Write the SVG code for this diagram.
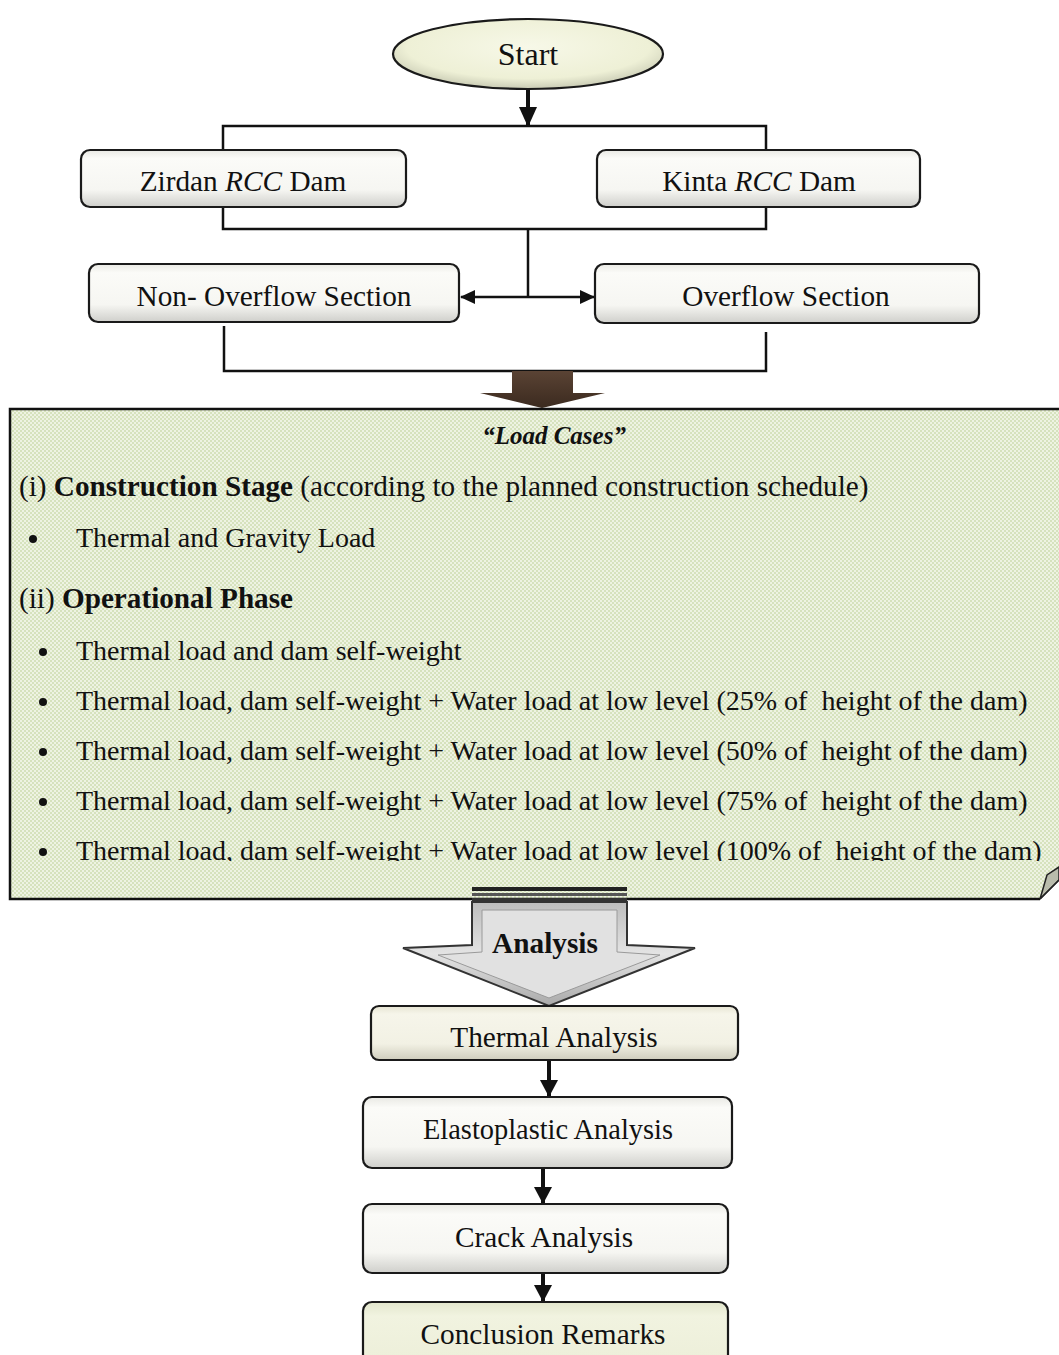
<svg xmlns="http://www.w3.org/2000/svg" width="1059" height="1355" viewBox="0 0 1059 1355">
  <defs>
    <style>
      .t { font-family: "Liberation Serif", "Times New Roman", serif; fill: #111; }
      .c { text-anchor: middle; }
      .lbl { font-size: 29.3px; }
      .box { stroke: #1a1a1a; stroke-width: 2.2; }
      .line { fill: none; stroke: #111; stroke-width: 2.5; }
      .shaft { fill: none; stroke: #111; stroke-width: 4; }
    </style>
    <linearGradient id="boxFill" x1="0" y1="0" x2="0" y2="1">
      <stop offset="0" stop-color="#e9e9e4"/>
      <stop offset="0.15" stop-color="#fbfbf8"/>
      <stop offset="0.7" stop-color="#f6f6f2"/>
      <stop offset="1" stop-color="#cfcfcb"/>
    </linearGradient>
    <linearGradient id="beigeFill" x1="0" y1="0" x2="0" y2="1">
      <stop offset="0" stop-color="#e6e4d2"/>
      <stop offset="0.15" stop-color="#f6f5ea"/>
      <stop offset="0.7" stop-color="#f2f1e4"/>
      <stop offset="1" stop-color="#cfcdbd"/>
    </linearGradient>
    <linearGradient id="greenFill" x1="0" y1="0" x2="0" y2="1">
      <stop offset="0" stop-color="#e2e6cc"/>
      <stop offset="0.2" stop-color="#f1f3e0"/>
      <stop offset="1" stop-color="#eceed8"/>
    </linearGradient>
    <radialGradient id="startFill" cx="0.5" cy="0.4" r="0.6">
      <stop offset="0" stop-color="#f7f8e8"/>
      <stop offset="0.75" stop-color="#eef0d6"/>
      <stop offset="1" stop-color="#c9cbb4"/>
    </radialGradient>
    <linearGradient id="brownFill" x1="0" y1="0" x2="0" y2="1">
      <stop offset="0" stop-color="#5a4334"/>
      <stop offset="1" stop-color="#3b2a1f"/>
    </linearGradient>
    <linearGradient id="grayArrow" x1="0" y1="0" x2="0" y2="1">
      <stop offset="0" stop-color="#bdbdbd"/>
      <stop offset="0.5" stop-color="#e4e4e4"/>
      <stop offset="1" stop-color="#a9a9a9"/>
    </linearGradient>
    <pattern id="dots" width="4" height="4" patternUnits="userSpaceOnUse">
      <rect width="4" height="4" fill="#d6e2bd"/>
      <rect x="0" y="0" width="2" height="2" fill="#eef3e2"/>
      <rect x="2" y="2" width="2" height="2" fill="#eef3e2"/>
    </pattern>
    <marker id="head" viewBox="0 0 15 14" refX="14" refY="7" markerWidth="15" markerHeight="14" markerUnits="userSpaceOnUse" orient="auto">
      <path d="M0,0 L15,7 L0,14 Z" fill="#111"/>
    </marker>
    <marker id="midHead" viewBox="0 0 17 18" refX="16" refY="9" markerWidth="17" markerHeight="18" markerUnits="userSpaceOnUse" orient="auto">
      <path d="M0,0 L17,9 L0,18 Z" fill="#111"/>
    </marker>
    <marker id="bigHead" viewBox="0 0 20 18" refX="19" refY="9" markerWidth="20" markerHeight="18" markerUnits="userSpaceOnUse" orient="auto">
      <path d="M0,0 L20,9 L0,18 Z" fill="#111"/>
    </marker>
    <clipPath id="loadClip">
      <rect x="10" y="409" width="1049" height="452"/>
    </clipPath>
  </defs>

  <rect width="1059" height="1355" fill="#ffffff"/>

  <!-- connectors -->
  <g id="connectors">
    <line class="shaft" x1="528" y1="90" x2="528" y2="126" marker-end="url(#bigHead)"/>
    <polyline class="line" points="223,150 223,126 766,126 766,150"/>
    <polyline class="line" points="223,207 223,229 766,229 766,207"/>
    <line class="line" x1="528" y1="229" x2="528" y2="297"/>
    <line class="line" x1="528" y1="297" x2="461" y2="297" marker-end="url(#head)"/>
    <line class="line" x1="528" y1="297" x2="594" y2="297" marker-end="url(#head)"/>
    <polyline class="line" points="224,326 224,371 766,371 766,332"/>
    <line class="shaft" x1="549" y1="1060" x2="549" y2="1096" marker-end="url(#midHead)"/>
    <line class="shaft" x1="543" y1="1168" x2="543" y2="1203" marker-end="url(#midHead)"/>
    <line class="shaft" x1="543" y1="1273" x2="543" y2="1301" marker-end="url(#midHead)"/>
  </g>

  <!-- start terminator -->
  <g id="start">
    <ellipse cx="528" cy="54" rx="135" ry="35" fill="url(#startFill)" stroke="#1a1a1a" stroke-width="2.2"/>
    <text class="t c" x="528" y="65" font-size="32">Start</text>
  </g>

  <g id="zirdan">
    <rect class="box" x="81" y="150" width="325" height="57" rx="9" fill="url(#boxFill)"/>
    <text class="t c lbl" x="243" y="191">Zirdan <tspan font-style="italic">RCC</tspan> Dam</text>
  </g>

  <g id="kinta">
    <rect class="box" x="597" y="150" width="323" height="57" rx="9" fill="url(#boxFill)"/>
    <text class="t c lbl" x="759" y="191">Kinta <tspan font-style="italic">RCC</tspan> Dam</text>
  </g>

  <g id="non-overflow">
    <rect class="box" x="89" y="264" width="370" height="58" rx="9" fill="url(#boxFill)"/>
    <text class="t c lbl" x="274" y="306">Non- Overflow Section</text>
  </g>

  <g id="overflow">
    <rect class="box" x="595" y="264" width="384" height="59" rx="9" fill="url(#boxFill)"/>
    <text class="t c lbl" x="786" y="306">Overflow Section</text>
  </g>

  <!-- block arrow into the load cases -->
  <g id="brown-arrow">
    <path d="M512,371 L573,371 L573,393 L605,393 L542,408 L480,393 L512,393 Z" fill="url(#brownFill)"/>
  </g>

  <!-- load cases panel -->
  <g id="load-cases">
    <path d="M10,409 L1059,409 L1059,866 L1040,899 L10,899 Z" fill="url(#dots)"/>
    <path d="M1059,409 L10,409 L10,899 L1040,899" fill="none" stroke="#111" stroke-width="2.5"/>
    <path d="M1040,899 L1047,875 L1059,867 L1059,880 Z" fill="#b9bcac" stroke="#222" stroke-width="1.5"/>
    <line x1="1040" y1="899" x2="1059" y2="880" stroke="#222" stroke-width="1.5"/>
    <g clip-path="url(#loadClip)" font-size="28">
      <text class="t c" x="554" y="444" font-size="25" font-weight="bold" font-style="italic">“Load Cases”</text>
      <text class="t" x="19" y="496" font-size="29.2">(i) <tspan font-weight="bold">Construction Stage</tspan> (according to the planned construction schedule)</text>
      <circle cx="33" cy="539" r="4" fill="#111"/>
      <text class="t" x="76" y="547">Thermal and Gravity Load</text>
      <circle cx="43" cy="652" r="4" fill="#111"/>
      <text class="t" x="19" y="608" font-size="29.2">(ii) <tspan font-weight="bold">Operational Phase</tspan></text>
      <text class="t" x="76" y="660">Thermal load and dam self-weight</text>
      <circle cx="43" cy="702" r="4" fill="#111"/>
      <text class="t" x="76" y="710">Thermal load, dam self-weight + Water load at low level (25% of&#160; height of the dam)</text>
      <circle cx="43" cy="752" r="4" fill="#111"/>
      <text class="t" x="76" y="760">Thermal load, dam self-weight + Water load at low level (50% of&#160; height of the dam)</text>
      <circle cx="43" cy="802" r="4" fill="#111"/>
      <text class="t" x="76" y="810">Thermal load, dam self-weight + Water load at low level (75% of&#160; height of the dam)</text>
      <circle cx="43" cy="852" r="4" fill="#111"/>
      <text class="t" x="76" y="860">Thermal load, dam self-weight + Water load at low level (100% of&#160; height of the dam)</text>
    </g>
  </g>

  <!-- analysis block arrow -->
  <g id="analysis">
    <rect x="472" y="887" width="155" height="4" fill="#222"/>
    <rect x="472" y="893" width="155" height="3" fill="#555"/>
    <rect x="472" y="898" width="155" height="3" fill="#333"/>
    <path d="M472,902 L627,902 L627,945 L695,948 L549,1006 L403,948 L472,945 Z" fill="url(#grayArrow)" stroke="#333" stroke-width="2"/>
    <path d="M482,910 L617,910 L617,952 L660,955 L549,998 L438,955 L482,952 Z" fill="#e1e1e1" stroke="#9a9a9a" stroke-width="1"/>
    <text class="t c lbl" x="545" y="953" font-weight="bold">Analysis</text>
  </g>

  <g id="thermal">
    <rect class="box" x="371" y="1006" width="367" height="54" rx="8" fill="url(#beigeFill)"/>
    <text class="t c lbl" x="554" y="1047">Thermal Analysis</text>
  </g>

  <g id="elastoplastic">
    <rect class="box" x="363" y="1097" width="369" height="71" rx="9" fill="url(#boxFill)"/>
    <text class="t c" x="548" y="1139" font-size="28.4">Elastoplastic Analysis</text>
  </g>

  <g id="crack">
    <rect class="box" x="363" y="1204" width="365" height="69" rx="9" fill="url(#boxFill)"/>
    <text class="t c lbl" x="544" y="1247">Crack Analysis</text>
  </g>

  <g id="conclusion">
    <rect class="box" x="363" y="1302" width="365" height="70" rx="9" fill="url(#greenFill)"/>
    <text class="t c lbl" x="543" y="1344">Conclusion Remarks</text>
  </g>
</svg>
